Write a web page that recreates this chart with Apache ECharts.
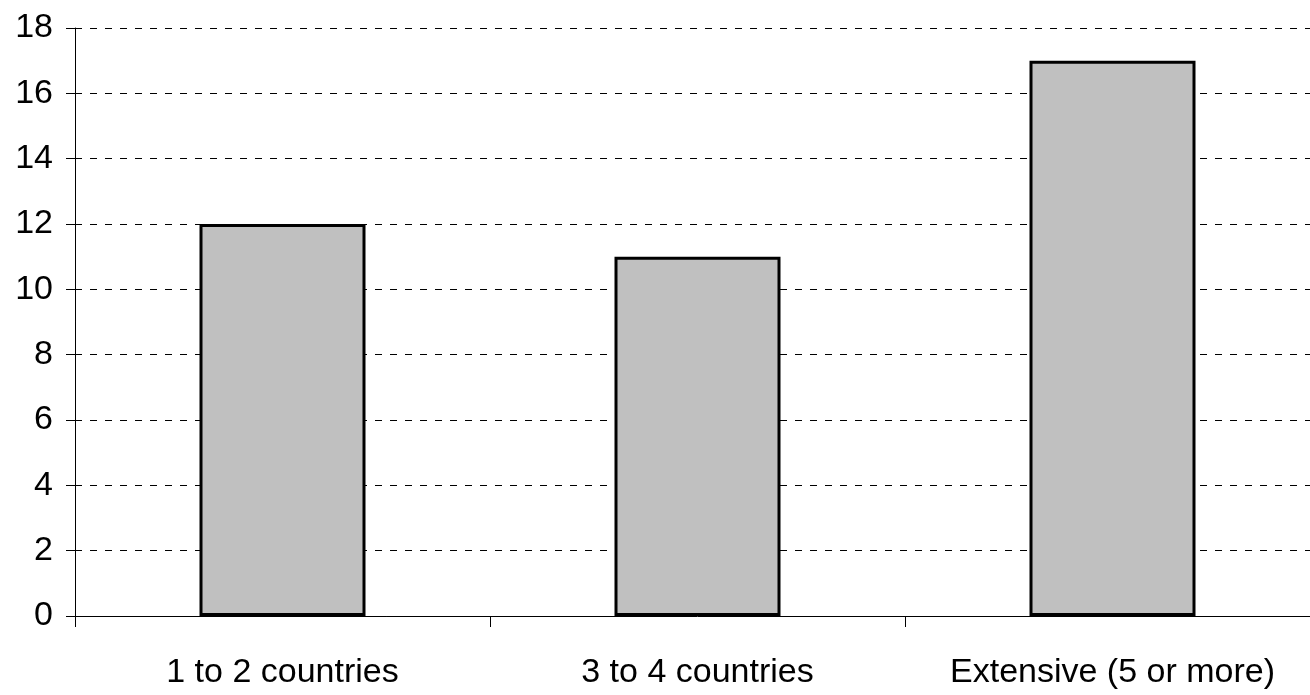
<!DOCTYPE html>
<html>
<head>
<meta charset="utf-8">
<script src="https://cdn.jsdelivr.net/npm/echarts@6/dist/echarts.min.js"></script>
<style>
  html, body { margin: 0; padding: 0; background: #ffffff; overflow: hidden; }
  /* the plot runs slightly past the right edge of the window */
  #chart { width: 1330px; height: 695px; }
</style>
</head>
<body>
<div id="chart"></div>
<script>
// Number of firms by breadth of international presence
const categories = ['1 to 2 countries', '3 to 4 countries', 'Extensive (5 or more)'];
const counts = [12, 11, 17];
const yMin = 0;
const yMax = 18;
const yStep = 2;

const font = '"Liberation Sans", Arial, sans-serif';

const chart = echarts.init(document.getElementById('chart'), null, { renderer: 'canvas' });
chart.setOption({
  animation: false,
  backgroundColor: '#ffffff',
  grid: { left: 75, top: 28, right: 10, height: 588, containLabel: false },
  xAxis: {
    type: 'category',
    data: categories,
    boundaryGap: true,
    axisLine: { show: true, lineStyle: { color: '#000000', width: 1 } },
    axisTick: { show: true, length: 11, alignWithLabel: false, lineStyle: { color: '#000000', width: 1 } },
    axisLabel: { interval: 0, color: '#000000', fontFamily: font, fontSize: 34, margin: 40 },
    splitLine: { show: false }
  },
  yAxis: {
    type: 'value',
    min: yMin,
    max: yMax,
    interval: yStep,
    axisLine: { show: true, lineStyle: { color: '#000000', width: 1 } },
    axisTick: { show: true, length: 9, lineStyle: { color: '#000000', width: 1 } },
    axisLabel: { color: '#000000', fontFamily: font, fontSize: 34, margin: 22, padding: [0, 0, 7, 0] },
    splitLine: { show: true, lineStyle: { color: '#000000', width: 1, type: [7, 8] } }
  },
  series: [{
    type: 'bar',
    data: counts,
    barWidth: '40%',
    itemStyle: { color: '#c0c0c0', borderColor: '#000000', borderWidth: 3 }
  }]
});
</script>
</body>
</html>
